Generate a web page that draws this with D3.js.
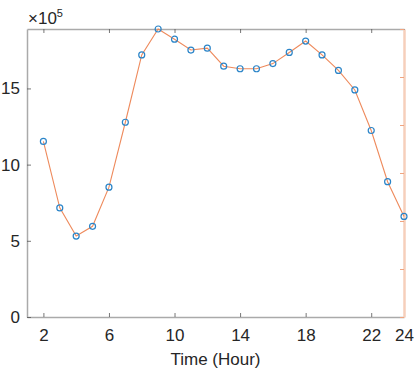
<!DOCTYPE html>
<html>
<head>
<meta charset="utf-8">
<script src="https://cdn.jsdelivr.net/npm/d3@7"></script>
<style>
  body { margin: 0; background: #fff; }
  svg text { font-family: "Liberation Sans", Arial, sans-serif; fill: #262626; }
</style>
</head>
<body>
<svg width="415" height="368"></svg>
<script>
  // hourly values, in units of 1e5
  const hours = [2, 3, 4, 5, 6, 7, 8, 9, 10, 11, 12, 13, 14, 15, 16, 17, 18, 19, 20, 21, 22, 23, 24];
  const values = [11.52, 7.16, 5.31, 5.95, 8.52, 12.78, 17.2, 18.9, 18.23, 17.52, 17.64, 16.46, 16.29, 16.29, 16.63, 17.36, 18.11, 17.2, 16.18, 14.9, 12.24, 8.88, 6.6];
  const xTicks = [2, 6, 10, 14, 18, 22, 24];
  const yTicks = [0, 5, 10, 15];
  const rightTicks = [0, 1, 2, 3, 4, 5, 6];

  const svg = d3.select('svg');
  const margin = { top: 29, right: 11, bottom: 51, left: 27 };
  const width = +svg.attr('width');
  const height = +svg.attr('height');
  const innerWidth = width - margin.left - margin.right;
  const innerHeight = height - margin.top - margin.bottom;

  const data = hours.map((h, i) => ({ h, v: values[i] }));

  const xScale = d3.scaleLinear().domain([1, 24]).range([0, innerWidth]);
  const yScale = d3.scaleLinear().domain([0, d3.max(values)]).range([innerHeight, 0]);
  const yRight = d3.scaleLinear().domain([0, 6]).range([innerHeight, 0]);

  const g = svg.append('g')
    .attr('transform', `translate(${margin.left},${margin.top})`);

  const axisColor = '#aaaaaa';
  const styleAxis = sel => {
    sel.select('.domain').attr('stroke', axisColor).attr('stroke-width', 1.5);
    sel.selectAll('.tick line').attr('stroke', '#555').attr('stroke-width', 0.8);
    sel.selectAll('.tick text').attr('font-size', 17).attr('fill', '#262626');
  };

  // top border with ticks
  const topAxis = g.append('g')
    .call(d3.axisTop(xScale).tickValues(xTicks).tickSizeInner(-4).tickSizeOuter(0));
  topAxis.selectAll('.tick text').remove();
  styleAxis(topAxis);

  const xAxisG = g.append('g')
    .attr('transform', `translate(0,${innerHeight})`)
    .call(d3.axisBottom(xScale).tickValues(xTicks).tickSizeInner(-4).tickSizeOuter(0).tickPadding(12));
  styleAxis(xAxisG);

  const yAxisG = g.append('g')
    .call(d3.axisLeft(yScale).tickValues(yTicks).tickSizeInner(-4).tickSizeOuter(0).tickPadding(7));
  styleAxis(yAxisG);

  // right axis, orange, no labels
  const rightG = g.append('g')
    .attr('transform', `translate(${innerWidth},0)`)
    .call(d3.axisRight(yRight).tickValues(rightTicks).tickSizeInner(-4).tickSizeOuter(0));
  rightG.selectAll('.tick text').remove();
  rightG.select('.domain').attr('stroke', '#f6cfbb').attr('stroke-width', 2.5);
  rightG.selectAll('.tick line').attr('stroke', '#f0a47f').attr('stroke-width', 1);

  // exponent label
  const expo = svg.append('text')
    .attr('x', margin.left + 1)
    .attr('y', margin.top - 5)
    .attr('font-size', 17);
  expo.append('tspan').text('\u00d710');
  expo.append('tspan').attr('dy', -7).attr('font-size', 11).text('5');

  // x label
  g.append('text')
    .attr('x', innerWidth / 2)
    .attr('y', innerHeight + 48)
    .attr('text-anchor', 'middle')
    .attr('font-size', 17)
    .text('Time (Hour)');

  const lineGenerator = d3.line()
    .x(d => xScale(d.h))
    .y(d => yScale(d.v));

  g.append('path')
    .attr('d', lineGenerator(data))
    .attr('fill', 'none')
    .attr('stroke', '#ee8a5c')
    .attr('stroke-width', 1.1);

  g.selectAll('circle')
    .data(data)
    .enter().append('circle')
    .attr('cx', d => xScale(d.h))
    .attr('cy', d => yScale(d.v))
    .attr('r', 3)
    .attr('fill', 'none')
    .attr('stroke', '#2a84c8')
    .attr('stroke-width', 1.2);
</script>
</body>
</html>
